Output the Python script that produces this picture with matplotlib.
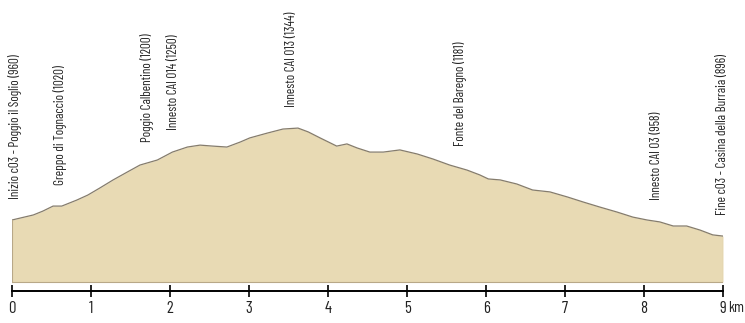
import matplotlib.pyplot as plt
import numpy as np

# profilo altimetrico (km, m s.l.m.)
dist_km = [0.0, 0.27, 0.39, 0.52, 0.63, 0.82, 0.96, 1.11, 1.28, 1.46, 1.62, 1.84,
           2.03, 2.22, 2.38, 2.54, 2.72, 2.89, 3.01, 3.23, 3.43, 3.62, 3.75, 3.90,
           4.03, 4.11, 4.24, 4.37, 4.53, 4.70, 4.91, 5.13, 5.33, 5.54, 5.76, 5.92,
           6.03, 6.18, 6.39, 6.59, 6.81, 7.03, 7.23, 7.44, 7.66, 7.86, 8.04, 8.20,
           8.37, 8.54, 8.71, 8.87, 9.0]
quota_m = [960, 981, 997, 1018, 1018, 1043, 1064, 1093, 1127, 1160, 1189, 1210,
           1243, 1264, 1272, 1268, 1264, 1285, 1302, 1322, 1339, 1343, 1327, 1302,
           1281, 1268, 1277, 1260, 1243, 1243, 1252, 1235, 1214, 1189, 1168, 1148,
           1131, 1127, 1110, 1085, 1077, 1056, 1035, 1014, 993, 972, 960, 952,
           935, 935, 918, 898, 893]

# punti notevoli
punti_nome = ["Inizio c03 - Poggio il Soglio (960)", "Greppo di Tognaccio (1020)",
              "Poggio Calbentino (1200)", "Innesto CAI 014 (1250)",
              "Innesto CAI 013 (1344)", "Fonte del Baregno (1181)",
              "Innesto CAI 03 (958)", "Fine c03 - Casina della Burraia (896)"]
punti_km = [0.04, 0.61, 1.71, 2.04, 3.54, 5.67, 8.16, 8.99]
punti_quota = [960, 1020, 1200, 1250, 1344, 1181, 958, 896]

km_ticks = list(range(10))

plt.rcParams['font.family'] = ['Barlow Condensed', 'DejaVu Sans']
plt.rcParams['font.stretch'] = 'condensed'

fig = plt.figure(figsize=(7.45, 3.23), dpi=100)
# 79 px per km, 0.24 px per metro
ax = fig.add_axes([12 / 745, 0, 711 / 745, 1])
ax.set_xlim(0, 9)
ax.set_ylim(960 - 103 / 0.24, 960 + 220 / 0.24)

base = 960 - 62 / 0.24
ax.fill_between(dist_km, base, quota_m, color='#e8dab4', lw=0)
ax.plot(dist_km, quota_m, color='#857c6c', lw=0.9)
ax.plot([0, 0], [base, quota_m[0]], color='#b8a888', lw=0.8)
ax.plot([9, 9], [base, quota_m[-1]], color='#b8a888', lw=0.8)
ax.plot([0, 9], [base, base], color='#b8a888', lw=0.8)

for nome, k, q in zip(punti_nome, punti_km, punti_quota):
    ax.annotate(nome, xy=(k, q), xytext=(0, 15), textcoords='offset points',
                rotation=90, ha='center', va='bottom', fontsize=9.5, color='#222222')

for s in ['top', 'left', 'right']:
    ax.spines[s].set_visible(False)
ax.spines['bottom'].set_position(('data', 960 - 71 / 0.24))
ax.spines['bottom'].set_linewidth(1.4)
ax.set_xticks(km_ticks)
ax.set_xticklabels([str(k) for k in km_ticks])
ax.tick_params(axis='x', direction='inout', length=8, width=1.2, labelsize=12, pad=3,
               labelcolor='#222222')
ax.set_yticks([])
ax.annotate('km', xy=(9, 960 - 71 / 0.24), xytext=(3.5, -7), textcoords='offset points',
            ha='left', va='top', fontsize=11, color='#222222', annotation_clip=False)

fig.savefig('out.png', dpi=100)
